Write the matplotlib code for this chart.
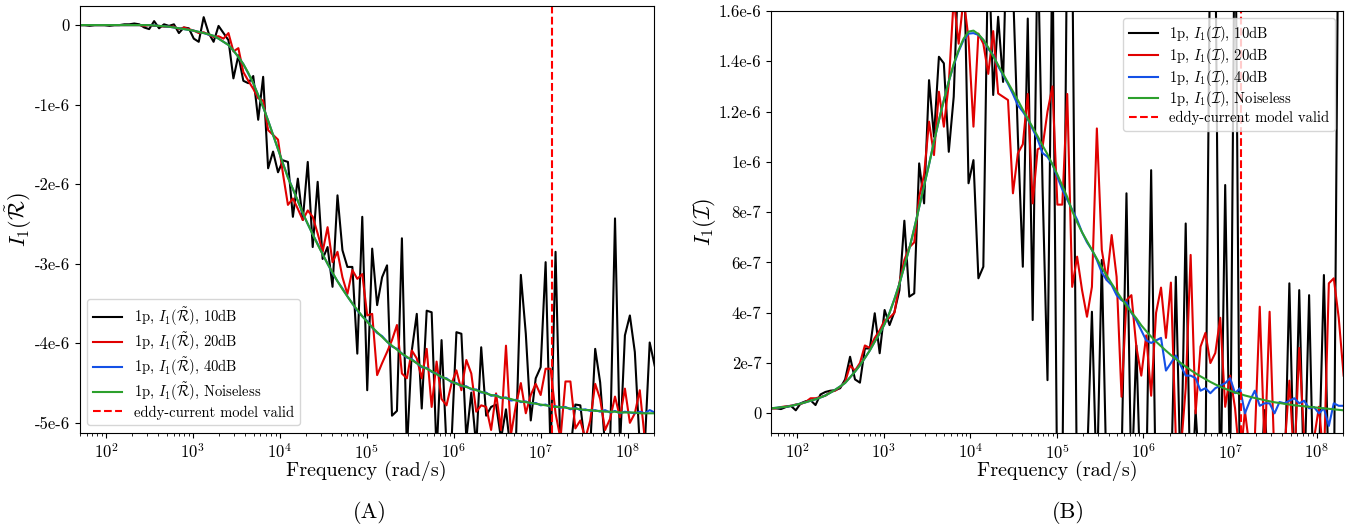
import numpy as np
import matplotlib.pyplot as plt
import matplotlib.ticker as mticks

plt.switch_backend('agg')

# frequency grid (rad/s), 117 log-spaced samples
freq = np.logspace(1.7, 8.312, 117)
f_valid = 1.35e7

# real part, units of 1e-6
re_10dB = [0, 0, -0.01, 0, 0, 0, -0.01, 0, 0, 0.01,
           0.01, 0.02, 0.01, -0.03, -0.05, 0.05, -0.04, 0.01, -0.01, 0.01,
           -0.10, -0.03, -0.04, -0.17, -0.21, 0.10, -0.10, -0.21, -0.01, -0.10,
           -0.19, -0.67, -0.38, -0.70, -0.73, -0.64, -1.19, -0.65, -1.80, -1.59,
           -1.85, -1.70, -1.72, -2.41, -1.93, -2.45, -1.72, -2.79, -1.97, -2.94,
           -2.79, -3.29, -2.14, -2.83, -3.04, -3.04, -4.13, -2.41, -4.59, -2.81,
           -3.52, -3.17, -3.02, -4.91, -4.85, -2.68, -5.35, -4.09, -3.63, -4.82,
           -3.59, -3.61, -5.40, -3.96, -5.30, -5.25, -3.86, -3.88, -5.20, -4.62,
           -5.30, -4.05, -4.91, -4.80, -4.77, -5.20, -4.83, -5.40, -5.25, -3.14,
           -3.88, -4.97, -4.44, -4.30, -2.98, -5.40, -2.85, -5.40, -5.30, -5.35,
           -4.77, -4.78, -5.30, -5.30, -4.07, -4.49, -5.30, -5.30, -2.43, -5.30,
           -3.90, -3.65, -4.11, -5.30, -5.30, -3.99, -4.28]
re_20dB = [0, 0, 0, 0, 0, 0, 0, 0, 0, 0,
           0, 0, 0, -0.01, 0, -0.01, -0.01, -0.02, -0.02, -0.02,
           -0.05, -0.03, -0.05, -0.07, -0.10, -0.09, -0.12, -0.15, -0.14, -0.17,
           -0.10, -0.33, -0.29, -0.59, -0.70, -0.80, -0.92, -0.95, -1.32, -1.38,
           -1.44, -1.87, -2.26, -2.18, -2.31, -2.45, -2.33, -2.41, -2.62, -2.85,
           -2.54, -2.98, -2.85, -3.17, -3.38, -3.08, -3.19, -3.13, -3.65, -3.63,
           -4.40, -4.25, -4.11, -3.96, -3.77, -4.38, -4.44, -4.09, -4.19, -4.44,
           -4.07, -4.80, -4.23, -4.70, -4.78, -4.51, -4.34, -4.59, -4.21, -4.38,
           -4.86, -4.78, -4.80, -5.09, -4.63, -5.09, -4.03, -5.15, -4.78, -4.50,
           -4.88, -4.65, -4.51, -4.65, -4.32, -4.32, -4.88, -5.20, -4.48, -4.48,
           -5.07, -4.97, -5.20, -4.97, -4.51, -4.70, -5.09, -4.95, -4.67, -4.93,
           -4.57, -5.00, -4.88, -4.59, -5.20, -5.30, -5.30]
re_40dB = [0, 0, 0, 0, 0, 0, 0, 0, 0, 0,
           0, 0, 0, 0, 0, -0.005, -0.01, -0.015, -0.02, -0.03,
           -0.04, -0.05, -0.06, -0.07, -0.085, -0.10, -0.12, -0.135, -0.17, -0.21,
           -0.25, -0.32, -0.40, -0.49, -0.61, -0.73, -0.88, -1.03, -1.20, -1.38,
           -1.56, -1.74, -1.91, -2.06, -2.21, -2.37, -2.50, -2.63, -2.75, -2.88,
           -3.00, -3.12, -3.22, -3.31, -3.41, -3.50, -3.59, -3.66, -3.72, -3.80,
           -3.87, -3.91, -3.98, -4.04, -4.07, -4.13, -4.18, -4.20, -4.25, -4.30,
           -4.31, -4.36, -4.38, -4.43, -4.44, -4.49, -4.50, -4.54, -4.54, -4.58,
           -4.58, -4.62, -4.62, -4.66, -4.65, -4.69, -4.68, -4.72, -4.71, -4.74,
           -4.73, -4.76, -4.75, -4.78, -4.77, -4.80, -4.79, -4.81, -4.80, -4.83,
           -4.81, -4.84, -4.83, -4.85, -4.84, -4.86, -4.84, -4.87, -4.85, -4.88,
           -4.86, -4.87, -4.88, -4.86, -4.88, -4.84, -4.87]
re_clean = [0, 0, 0, 0, 0, 0, 0, 0, 0, 0,
            0, 0, 0, 0, 0, -0.005, -0.01, -0.015, -0.02, -0.03,
            -0.04, -0.05, -0.06, -0.07, -0.085, -0.10, -0.115, -0.135, -0.17, -0.21,
            -0.25, -0.32, -0.40, -0.49, -0.60, -0.73, -0.88, -1.03, -1.20, -1.38,
            -1.56, -1.74, -1.92, -2.06, -2.21, -2.36, -2.50, -2.63, -2.76, -2.88,
            -3.00, -3.11, -3.22, -3.32, -3.41, -3.50, -3.58, -3.66, -3.73, -3.80,
            -3.86, -3.92, -3.98, -4.03, -4.08, -4.13, -4.17, -4.21, -4.25, -4.29,
            -4.32, -4.35, -4.39, -4.42, -4.45, -4.48, -4.51, -4.53, -4.55, -4.57,
            -4.59, -4.61, -4.63, -4.65, -4.66, -4.68, -4.69, -4.70, -4.72, -4.73,
            -4.74, -4.75, -4.76, -4.77, -4.78, -4.79, -4.80, -4.80, -4.81, -4.82,
            -4.82, -4.83, -4.84, -4.84, -4.85, -4.85, -4.86, -4.86, -4.86, -4.87,
            -4.87, -4.87, -4.87, -4.88, -4.88, -4.88, -4.88]

# imaginary part, units of 1e-6
im_10dB = [0.020, 0.020, 0.017, 0.025, 0.030, 0.012, 0.040, 0.048, 0.052, 0.033,
           0.075, 0.085, 0.090, 0.092, 0.100, 0.135, 0.225, 0.135, 0.122, 0.258,
           0.258, 0.398, 0.239, 0.411, 0.351, 0.404, 0.490, 0.766, 0.464, 0.477,
           0.994, 0.835, 1.325, 1.100, 1.418, 1.392, 1.040, 1.259, 1.800, 1.900,
           0.915, 1.007, 0.537, 0.583, 1.900, 1.266, 1.577, 1.318, 2.100, 1.700,
           1.100, 0.583, 1.570, 0.371, 1.900, 0.900, 0.132, 1.900, -0.400, -0.300,
           2.000, 1.900, -0.400, -0.300, -0.200, 0.404, -0.300, 0.610, -0.300, -0.400,
           -0.300, -0.200, 0.875, -0.300, 0.270, -0.400, -0.300, 0.967, -0.400, -0.300,
           -0.500, -0.300, 0.543, -0.300, 0.755, -0.400, 0.013, -0.300, -0.200, 2.000,
           1.900, -0.400, 0.908, -0.300, 2.200, -0.400, -0.300, -0.200, -0.400, -0.300,
           0.013, -0.300, -0.400, -0.200, -0.300, 0.517, -0.300, 0.490, -0.300, 0.470,
           -0.400, -0.200, 0.550, -0.300, -0.400, 2.200, 2.500]
im_20dB = [0.020, 0.020, 0.025, 0.028, 0.030, 0.035, 0.037, 0.045, 0.060, 0.060,
           0.065, 0.070, 0.085, 0.090, 0.105, 0.125, 0.190, 0.170, 0.200, 0.270,
           0.260, 0.300, 0.330, 0.370, 0.380, 0.400, 0.520, 0.610, 0.660, 0.680,
           0.860, 0.950, 1.160, 1.027, 1.279, 1.140, 1.310, 1.650, 1.470, 1.650,
           1.490, 1.140, 1.510, 1.470, 1.350, 1.520, 1.272, 1.259, 1.246, 0.875,
           1.034, 1.070, 1.270, 0.835, 1.050, 1.060, 1.200, 1.300, 0.830, 0.830,
           1.270, 0.503, 0.623, 0.490, 0.384, 0.503, 1.133, 0.650, 0.530, 0.709,
           0.543, 0.066, 0.450, 0.470, 0.265, 0.150, 0.310, 0.070, 0.400, 0.500,
           0.300, 0.520, -0.100, -0.150, 0.100, 0.630, 0.000, 0.265, 0.320, 0.200,
           0.240, 0.380, 0.026, 0.150, 0.020, -0.200, 0.010, -0.150, -0.100, 0.424,
           -0.150, 0.404, -0.200, -0.100, -0.150, 0.130, -0.200, 0.260, -0.100, -0.200,
           -0.100, 0.026, -0.200, 0.517, 0.537, 0.380, 0.150]
im_40dB = [0.020, 0.022, 0.024, 0.026, 0.029, 0.034, 0.039, 0.044, 0.050, 0.056,
           0.063, 0.071, 0.082, 0.094, 0.107, 0.121, 0.143, 0.166, 0.191, 0.220,
           0.250, 0.285, 0.318, 0.355, 0.400, 0.455, 0.515, 0.585, 0.655, 0.735,
           0.820, 0.905, 0.990, 1.080, 1.165, 1.245, 1.320, 1.385, 1.440, 1.485,
           1.510, 1.512, 1.505, 1.485, 1.450, 1.425, 1.380, 1.345, 1.310, 1.270,
           1.225, 1.200, 1.170, 1.130, 1.090, 1.035, 1.020, 0.990, 0.940, 0.890,
           0.850, 0.810, 0.770, 0.720, 0.680, 0.650, 0.610, 0.560, 0.530, 0.510,
           0.470, 0.450, 0.440, 0.400, 0.370, 0.330, 0.290, 0.280, 0.290, 0.300,
           0.170, 0.200, 0.230, 0.190, 0.150, 0.150, 0.140, 0.090, 0.100, 0.080,
           0.100, 0.110, 0.120, 0.140, 0.080, 0.100, 0.000, 0.050, 0.090, 0.030,
           0.040, 0.040, 0.000, 0.045, 0.040, 0.050, 0.060, 0.040, 0.050, 0.020,
           0.025, 0.000, 0.020, -0.050, 0.040, 0.030, 0.030]
im_clean = [0.020, 0.022, 0.024, 0.026, 0.029, 0.034, 0.039, 0.044, 0.050, 0.056,
            0.063, 0.071, 0.082, 0.094, 0.107, 0.121, 0.143, 0.166, 0.191, 0.220,
            0.250, 0.285, 0.318, 0.355, 0.400, 0.455, 0.515, 0.585, 0.655, 0.735,
            0.820, 0.905, 0.990, 1.080, 1.165, 1.245, 1.320, 1.390, 1.445, 1.490,
            1.518, 1.522, 1.508, 1.485, 1.455, 1.420, 1.385, 1.350, 1.315, 1.280,
            1.245, 1.208, 1.172, 1.137, 1.102, 1.065, 1.030, 0.990, 0.950, 0.905,
            0.860, 0.805, 0.760, 0.720, 0.685, 0.650, 0.615, 0.580, 0.548, 0.516,
            0.486, 0.456, 0.428, 0.402, 0.378, 0.350, 0.327, 0.305, 0.285, 0.267,
            0.249, 0.232, 0.216, 0.200, 0.186, 0.172, 0.159, 0.147, 0.136, 0.125,
            0.115, 0.106, 0.098, 0.090, 0.083, 0.077, 0.071, 0.066, 0.061, 0.057,
            0.052, 0.048, 0.044, 0.041, 0.038, 0.035, 0.032, 0.030, 0.028, 0.026,
            0.024, 0.022, 0.020, 0.018, 0.016, 0.014, 0.012]

re_ticks = [0, -1e-6, -2e-6, -3e-6, -4e-6, -5e-6]
re_ticklabels = ['0', '-1e-6', '-2e-6', '-3e-6', '-4e-6', '-5e-6']
im_ticks = [0, 2e-7, 4e-7, 6e-7, 8e-7, 1e-6, 1.2e-6, 1.4e-6, 1.6e-6]
im_ticklabels = ['0', '2e-7', '4e-7', '6e-7', '8e-7', '1e-6', '1.2e-6', '1.4e-6', '1.6e-6']
x_ticks = [1e2, 1e3, 1e4, 1e5, 1e6, 1e7, 1e8]

noise_labels = ['10dB', '20dB', '40dB', 'Noiseless']
colors = ['black', '#e00000', '#1450e6', '#2ca02c']

plt.rcParams['font.family'] = 'serif'
plt.rcParams['font.serif'] = ['cmr10']
plt.rcParams['mathtext.fontset'] = 'cm'
plt.rcParams['axes.formatter.use_mathtext'] = True
plt.rcParams['axes.unicode_minus'] = False


def plot_panel(ax, series, quantity, ticks, ticklabels, ylims, legend_loc, spacing):
    """Draws one frequency sweep panel"""
    for vals, lab, col in zip(series, noise_labels, colors):
        ax.plot(freq, np.array(vals) * 1e-6, color=col, lw=1.5,
                label=f'1p, ${quantity}$, {lab}')
    ax.axvline(f_valid, color='red', ls='--', lw=1.5, label='eddy-current model valid')
    ax.set_xscale('log')
    ax.set_xlim([50, 2e8])
    ax.xaxis.set_major_locator(mticks.FixedLocator(x_ticks))
    ax.xaxis.set_minor_locator(mticks.LogLocator(base=10, subs=np.arange(2, 10), numticks=20))
    ax.set_ylim(ylims)
    ax.yaxis.set_major_locator(mticks.FixedLocator(ticks))
    ax.yaxis.set_major_formatter(mticks.FixedFormatter(ticklabels))
    ax.tick_params(labelsize=12)
    ax.set_xlabel('Frequency (rad/s)', fontsize=14.5, labelpad=-1)
    ax.set_ylabel(f'${quantity}$', fontsize=16)
    ax.legend(loc=legend_loc, fontsize=10.5, labelspacing=spacing)


fig = plt.figure(figsize=(13.63, 5.31), dpi=100)
axA = fig.add_axes([79.7 / 1363, 1 - 432.7 / 531, 574 / 1363, 427 / 531])
axB = fig.add_axes([771 / 1363, 1 - 432.7 / 531, 571.7 / 1363, 421.7 / 531])

plot_panel(axA, [re_10dB, re_20dB, re_40dB, re_clean], r'I_1(\tilde{\mathcal{R}})',
           re_ticks, re_ticklabels, [-5.124e-6, 0.244e-6], 'lower left', 0.17)
plot_panel(axB, [im_10dB, im_20dB, im_40dB, im_clean], r'I_1(\mathcal{I})',
           im_ticks, im_ticklabels, [-0.077e-6, 1.6e-6], 'upper right', 0.12)
axA.yaxis.set_label_coords(-0.08, 0.5)
axB.yaxis.set_label_coords(-0.092, 0.5)

fig.text(370 / 1363, 1 - 512 / 531, '(A)', ha='center', va='center', fontsize=16)
fig.text(1068 / 1363, 1 - 512 / 531, '(B)', ha='center', va='center', fontsize=16)

plt.savefig('out.png', dpi=100)
plt.close()
